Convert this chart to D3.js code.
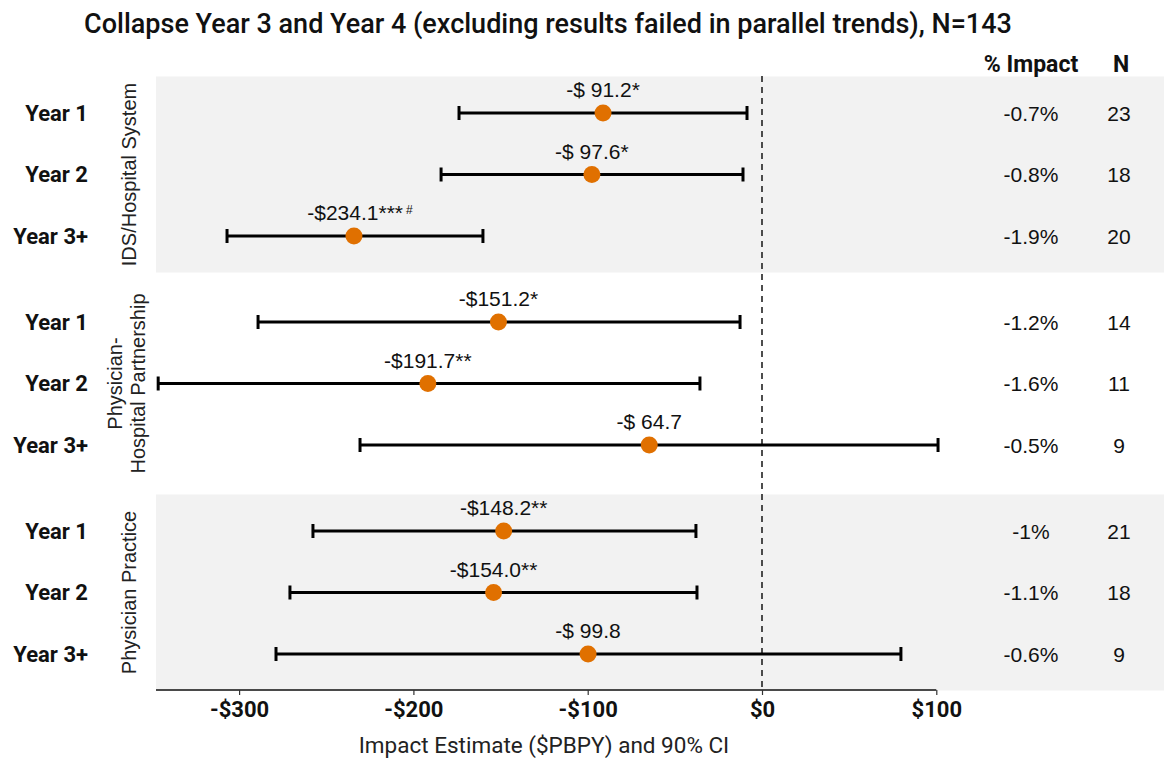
<!DOCTYPE html>
<html>
<head>
<meta charset="utf-8">
<script src="https://cdn.jsdelivr.net/npm/d3@7"></script>
<style>
  html, body { margin: 0; padding: 0; background: #fff; }
  svg { display: block; }
</style>
</head>
<body>
<svg id="chart" width="1166" height="761"></svg>
<script>
// ---------------- DATA ----------------
const groups = ["IDS/Hospital System", "Physician-Hospital Partnership", "Physician Practice"];
const groupLabelLines = [["IDS/Hospital System"], ["Physician-", "Hospital Partnership"], ["Physician Practice"]];
const years = ["Year 1", "Year 2", "Year 3+"];
const estimates = [-91.2, -97.6, -234.1, -151.2, -191.7, -64.7, -148.2, -154.0, -99.8];
const ciLower = [-174.4, -184.7, -307.5, -289.7, -347.0, -231.2, -258.2, -271.4, -279.4];
const ciUpper = [-8.6, -10.9, -160.1, -12.6, -35.6, 101.0, -37.9, -37.3, 79.7];
const valueLabels = ["-$ 91.2*", "-$ 97.6*", "-$234.1***", "-$151.2*", "-$191.7**", "-$ 64.7", "-$148.2**", "-$154.0**", "-$ 99.8"];
const valueSuperscripts = ["", "", "#", "", "", "", "", "", ""];
const pctImpact = ["-0.7%", "-0.8%", "-1.9%", "-1.2%", "-1.6%", "-0.5%", "-1%", "-1.1%", "-0.6%"];
const nCounts = [23, 18, 20, 14, 11, 9, 21, 18, 9];
const xTicks = [-300, -200, -100, 0, 100];
const titleText = "Collapse Year 3 and Year 4 (excluding results failed in parallel trends), N=143";
const xAxisTitle = "Impact Estimate ($PBPY) and 90% CI";

const rows = estimates.map((e, i) => ({
  group: groups[Math.floor(i / 3)],
  year: years[i % 3],
  est: e, lo: ciLower[i], hi: ciUpper[i],
  label: valueLabels[i], sup: valueSuperscripts[i],
  pct: pctImpact[i], n: nCounts[i]
}));

// ---------------- LAYOUT ----------------
const svg = d3.select("#chart");
const panelLeft = 156, panelRight = 1164;
const x = d3.scaleLinear().domain([0, 100]).range([762, 936.3]);
const xMin = x.invert(panelLeft);
const yGroup = d3.scaleBand().domain(groups).range([70, 697]).padding(0);
const yRow = d3.scalePoint().domain(years).range([-61.5, 61.5]);
const yPos = d => yGroup(d.group) + yGroup.bandwidth() / 2 + yRow(d.year);
const bandH = 196;
const axisY = 690;
const orange = "#e07000";

// Title
svg.append("text")
  .attr("x", 548).attr("y", 33)
  .attr("text-anchor", "middle")
  .style("font-family", "Roboto, sans-serif")
  .style("font-weight", 500)
  .style("font-size", "27px")
  .attr("fill", "#111")
  .text(titleText);

// Bands
svg.append("g").selectAll("rect")
  .data(groups.filter((g, i) => i !== 1))
  .join("rect")
  .attr("x", panelLeft)
  .attr("width", panelRight - panelLeft)
  .attr("y", g => yGroup(g) + yGroup.bandwidth() / 2 - bandH / 2)
  .attr("height", bandH)
  .attr("fill", "#f2f2f2");

// zero reference line
svg.append("line")
  .attr("x1", x(0)).attr("x2", x(0))
  .attr("y1", 76).attr("y2", axisY)
  .attr("stroke", "#222").attr("stroke-width", 1.6)
  .attr("stroke-dasharray", "6,5");

// X axis
const xAxis = d3.axisBottom(x)
  .tickValues(xTicks)
  .tickSize(5)
  .tickPadding(6)
  .tickFormat(d => (d < 0 ? "-$" : "$") + Math.abs(d));
const gx = svg.append("g").attr("transform", `translate(0,${axisY})`).call(xAxis);
gx.select(".domain").attr("d", `M${panelLeft},0H${x(100)}`).attr("stroke", "#111").attr("stroke-width", 1.6);
gx.selectAll(".tick line").attr("stroke", "#333").attr("stroke-width", 1.2);
gx.selectAll(".tick text")
  .style("font-family", "Roboto, sans-serif")
  .style("font-weight", 700)
  .style("font-size", "22px")
  .attr("fill", "#111");

svg.append("text")
  .attr("x", 544).attr("y", 753)
  .attr("text-anchor", "middle")
  .style("font-family", "Roboto, sans-serif")
  .style("font-size", "22.5px")
  .attr("fill", "#222")
  .text(xAxisTitle);

// Error bars
const capH = 14;
const eb = svg.append("g").selectAll("g").data(rows).join("g");
eb.append("line")
  .attr("x1", d => x(Math.max(d.lo, xMin))).attr("x2", d => x(d.hi))
  .attr("y1", yPos).attr("y2", yPos)
  .attr("stroke", "#000").attr("stroke-width", 3);
eb.append("line")
  .attr("x1", d => x(Math.max(d.lo, xMin)) + 1).attr("x2", d => x(Math.max(d.lo, xMin)) + 1)
  .attr("y1", d => yPos(d) - capH / 2).attr("y2", d => yPos(d) + capH / 2)
  .attr("stroke", "#000").attr("stroke-width", 3);
eb.append("line")
  .attr("x1", d => x(d.hi)).attr("x2", d => x(d.hi))
  .attr("y1", d => yPos(d) - capH / 2).attr("y2", d => yPos(d) + capH / 2)
  .attr("stroke", "#000").attr("stroke-width", 3);
eb.append("circle")
  .attr("cx", d => x(d.est)).attr("cy", yPos)
  .attr("r", 8.5).attr("fill", orange);

// Value labels
const vl = eb.append("text")
  .attr("x", d => x(d.est) + (d.sup ? 6 : 0))
  .attr("y", d => yPos(d) - 16)
  .attr("text-anchor", "middle")
  .style("font-family", "'Liberation Sans', Arial, sans-serif")
  .style("font-size", "21px")
  .attr("fill", "#111");
vl.append("tspan").text(d => d.label);
vl.filter(d => d.sup).append("tspan")
  .attr("dx", 3).attr("dy", -6)
  .style("font-size", "12px")
  .text(d => d.sup);

// Year labels
svg.append("g").selectAll("text").data(rows).join("text")
  .attr("x", 88).attr("y", yPos).attr("dy", "0.36em")
  .attr("text-anchor", "end")
  .style("font-family", "Roboto, sans-serif")
  .style("font-weight", 700)
  .style("font-size", "22px")
  .attr("fill", "#111")
  .text(d => d.year);

// Group labels (rotated)
groups.forEach((g, i) => {
  const cy = yGroup(g) + yGroup.bandwidth() / 2;
  const lines = groupLabelLines[i];
  const t = svg.append("text")
    .attr("transform", `translate(${lines.length > 1 ? 122 : 136},${cy}) rotate(-90)`)
    .attr("text-anchor", "middle")
    .style("font-family", "'Liberation Sans', Arial, sans-serif")
    .style("font-size", "20px")
    .attr("fill", "#222");
  lines.forEach((ln, j) => {
    t.append("tspan").attr("x", 0).attr("dy", j === 0 ? 0 : 23).text(ln);
  });
});

// Table columns
const pctX = 1031, nX = 1119;
svg.append("text").attr("x", pctX).attr("y", 72).attr("text-anchor", "middle")
  .style("font-family", "Roboto, sans-serif").style("font-weight", 700).style("font-size", "23px")
  .attr("fill", "#111").text("% Impact");
svg.append("text").attr("x", nX + 2).attr("y", 72).attr("text-anchor", "middle")
  .style("font-family", "Roboto, sans-serif").style("font-weight", 700).style("font-size", "23px")
  .attr("fill", "#111").text("N");
svg.append("g").selectAll("text").data(rows).join("text")
  .attr("x", pctX).attr("y", yPos).attr("dy", "0.36em")
  .attr("text-anchor", "middle")
  .style("font-family", "'Liberation Sans', Arial, sans-serif")
  .style("font-size", "21px").attr("fill", "#111")
  .text(d => d.pct);
svg.append("g").selectAll("text").data(rows).join("text")
  .attr("x", nX).attr("y", yPos).attr("dy", "0.36em")
  .attr("text-anchor", "middle")
  .style("font-family", "'Liberation Sans', Arial, sans-serif")
  .style("font-size", "21px").attr("fill", "#111")
  .text(d => d.n);
</script>
</body>
</html>
